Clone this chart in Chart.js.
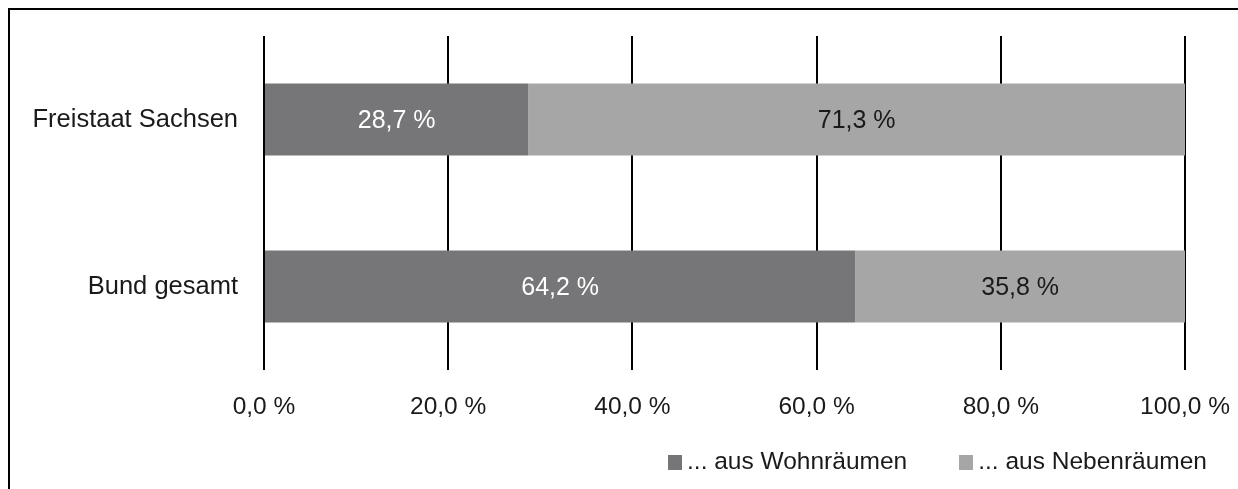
<!DOCTYPE html>
<html lang="de">
<head>
<meta charset="utf-8">
<title>Wohnräume / Nebenräume</title>
<script src="https://cdn.jsdelivr.net/npm/chart.js@4/dist/chart.umd.min.js"></script>
<style>
  html, body { margin: 0; padding: 0; background: #fff; overflow: hidden; }
  .frame {
    position: absolute; left: 8px; top: 8px;
    width: 1400px; height: 700px;
    border: 2px solid #000;
  }
  #chart { position: absolute; left: 0; top: 0; }
  #legend {
    position: absolute; right: 31px; top: 447px;
    display: flex; align-items: center;
    font: 24.5px 'Liberation Sans', Arial, sans-serif;
    color: #1a1a1a;
  }
  #legend .item { display: flex; align-items: center; margin-left: 52px; }
  #legend .item:first-child { margin-left: 0; }
  #legend .box { width: 14px; height: 15px; margin-right: 5px; margin-top: 2px; }
</style>
</head>
<body>
<div class="frame"></div>
<canvas id="chart" width="1238" height="489"></canvas>
<div id="legend"></div>
<script>
'use strict';

// DATA
const regions = ['Freistaat Sachsen', 'Bund gesamt'];
const wohnraeume = [28.7, 64.2];
const nebenraeume = [71.3, 35.8];
const seriesNames = ['... aus Wohnräumen', '... aus Nebenräumen'];
const xTicks = [0, 20, 40, 60, 80, 100];

const DARK = '#767678';
const LIGHT = '#a6a6a6';
const FONT = "'Liberation Sans', Arial, sans-serif";

// german number format, e.g. 28,7 %
function pct(v) {
  return v.toFixed(1).replace('.', ',') + ' %';
}

// VALUE LABELS INSIDE THE BARS
const barLabels = {
  id: 'barLabels',
  afterDatasetsDraw(chart) {
    const ctx = chart.ctx;
    ctx.save();
    ctx.font = '25px ' + FONT;
    ctx.textAlign = 'center';
    ctx.textBaseline = 'middle';
    chart.data.datasets.forEach((ds, i) => {
      const meta = chart.getDatasetMeta(i);
      meta.data.forEach((bar, j) => {
        ctx.fillStyle = i === 0 ? '#ffffff' : '#1a1a1a';
        ctx.fillText(pct(ds.data[j]), (bar.x + bar.base) / 2, bar.y + 2);
      });
    });
    ctx.restore();
  }
};

const config = {
  type: 'bar',
  data: {
    labels: regions,
    datasets: [
      { label: seriesNames[0], data: wohnraeume, backgroundColor: DARK },
      { label: seriesNames[1], data: nebenraeume, backgroundColor: LIGHT },
    ],
  },
  options: {
    indexAxis: 'y',
    responsive: false,
    animation: false,
    barPercentage: 0.43,
    categoryPercentage: 1,
    layout: { padding: { top: 36, right: 0, bottom: 0, left: 0 } },
    scales: {
      x: {
        stacked: true,
        min: 0,
        max: 100,
        afterBuildTicks(scale) {
          scale.ticks = xTicks.map((v) => ({ value: v }));
        },
        afterFit(scale) {
          // room below the plot for the tick labels, and space on the right
          scale.height = 119;
          scale.paddingRight = 53;
        },
        grid: { color: '#000', lineWidth: 2, drawTicks: false },
        border: { display: false },
        ticks: {
          padding: 23,
          color: '#1a1a1a',
          font: { family: FONT, size: 24.5 },
          callback: (v) => pct(v),
        },
      },
      y: {
        stacked: true,
        afterFit(scale) {
          scale.width = 264;
        },
        grid: { display: false },
        border: { display: false },
        ticks: {
          padding: 18,
          color: '#1a1a1a',
          font: { family: FONT, size: 25.5 },
        },
      },
    },
    plugins: {
      tooltip: { enabled: false },
      legend: { display: false },
    },
  },
  plugins: [barLabels],
};

const chart = new Chart(document.querySelector('#chart'), config);

// LEGEND BUILT FROM THE DATASETS
const legendBox = document.querySelector('#legend');
chart.data.datasets.forEach((ds) => {
  const item = document.createElement('div');
  item.className = 'item';
  item.innerHTML = `<span class="box" style="background:${ds.backgroundColor}"></span><span>${ds.label}</span>`;
  legendBox.appendChild(item);
});
</script>
</body>
</html>
